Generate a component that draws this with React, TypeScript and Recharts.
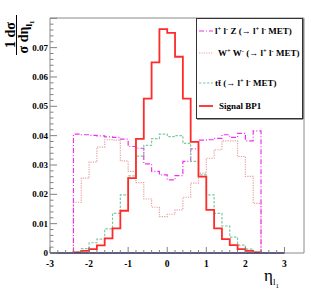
import React from "react";
import { ComposedChart, Line, XAxis, YAxis, ReferenceLine, ReferenceArea, Label } from "recharts";

// bins of 0.2 in eta, lower edges
const binStarts = [
  -2.4, -2.2, -2.0, -1.8, -1.6, -1.4, -1.2, -1.0, -0.8, -0.6, -0.4, -0.2,
  0.0, 0.2, 0.4, 0.6, 0.8, 1.0, 1.2, 1.4, 1.6, 1.8, 2.0, 2.2,
];
const binEnd = 2.4;

// l+ l- Z (-> l+ l- MET)
const llZ = [
  0.0405, 0.0403, 0.0401, 0.0399, 0.0396, 0.0394, 0.0388, 0.0363, 0.0357, 0.0304, 0.0278, 0.0266,
  0.0249, 0.0264, 0.0312, 0.0355, 0.0385, 0.0386, 0.0391, 0.0403, 0.0394, 0.0408, 0.0382, 0.0416,
];
// W+ W- (-> l+ l- MET)
const wwPair = [
  0.0173, 0.0255, 0.031, 0.0361, 0.0386, 0.0385, 0.0314, 0.0278, 0.024, 0.0184, 0.0156, 0.0124,
  0.0132, 0.0147, 0.019, 0.0238, 0.0272, 0.0323, 0.0352, 0.0382, 0.0382, 0.0329, 0.0261, 0.0169,
];
// t tbar (-> l+ l- MET)
const ttbar = [
  0.0003, 0.0015, 0.0035, 0.0047, 0.0082, 0.0135, 0.0198, 0.0263, 0.033, 0.0367, 0.039, 0.0405,
  0.0397, 0.04, 0.0374, 0.0312, 0.0266, 0.0198, 0.0135, 0.0092, 0.0054, 0.0027, 0.0013, 0.0003,
];
// Signal BP1
const signalBP1 = [
  0.0002, 0.0007, 0.0013, 0.0026, 0.005, 0.0084, 0.0144, 0.0255, 0.0389, 0.0526, 0.065, 0.0763,
  0.075, 0.0669, 0.0526, 0.0379, 0.026, 0.0147, 0.0084, 0.0047, 0.0027, 0.0013, 0.0007, 0.0002,
];

const xMajor = [-3, -2, -1, 0, 1, 2, 3];
const xLabels = ["-3", "-2", "-1", "0", "1", "2", "3"];
const yMajor = [0, 0.01, 0.02, 0.03, 0.04, 0.05, 0.06, 0.07];
const yLabels = ["0", "0.01", "0.02", "0.03", "0.04", "0.05", "0.06", "0.07"];

// minor ticks every 0.2 (x) and 0.002 (y)
const xTicks = Array.from({ length: 31 }, (_, k) => Math.round((-3 + k * 0.2) * 10) / 10);
const yTicks = Array.from({ length: 41 }, (_, k) => (k * 2) / 1000);

const serif = "'Liberation Serif', 'DejaVu Serif', serif";
const C_ZZ = "#f030f0";
const C_WW = "#e8a0a0";
const C_TT = "#80c8a0";
const C_SIG = "#ff2a2a";
const TICK = "#808080";

const zero = { zz: 0, ww: 0, tt: 0, sig: 0 };
const rows = [
  { eta: binStarts[0], ...zero },
  ...binStarts.map((eta, i) => ({ eta, zz: llZ[i], ww: wwPair[i], tt: ttbar[i], sig: signalBP1[i] })),
  { eta: binEnd, ...zero },
];

const XTick = (props: any) => {
  const { x, y, payload } = props;
  const i = xMajor.findIndex((m) => Math.abs(m - payload.value) < 1e-6);
  const major = i >= 0;
  return (
    <g>
      <line x1={x} x2={x} y1={y} y2={y - (major ? 6 : 3)} stroke={TICK} />
      {major && (
        <text x={x} y={y + 14} textAnchor="middle" fontFamily={serif} fontWeight="bold" fontSize={9.5} fill="#000">
          {xLabels[i]}
        </text>
      )}
    </g>
  );
};

const YTick = (props: any) => {
  const { x, y, payload } = props;
  const i = yMajor.findIndex((m) => Math.abs(m - payload.value) < 1e-7);
  const major = i >= 0 || Math.abs(payload.value - 0.08) < 1e-7;
  return (
    <g>
      <line x1={x} x2={x + (major ? 7 : 3.5)} y1={y} y2={y} stroke={TICK} />
      {i >= 0 && (
        <text x={x - 2} y={y + 3} textAnchor="end" fontFamily={serif} fontWeight="bold" fontSize={9} fill="#000">
          {yLabels[i]}
        </text>
      )}
    </g>
  );
};

const YTitle = () => (
  <g fontFamily={serif} fontWeight="bold" fill="#000">
    <text transform="translate(15,35) rotate(-90)" textAnchor="middle" fontSize={14}>
      1 dσ
    </text>
    <line x1={16.5} x2={16.5} y1={15} y2={55} stroke="#000" strokeWidth={1} />
    <text transform="translate(28,37) rotate(-90)" textAnchor="middle" fontSize={14}>
      σ dη<tspan fontSize={9} dy={4}>l</tspan>
      <tspan fontSize={7} dy={2}>1</tspan>
    </text>
  </g>
);

const XTitle = () => (
  <text x={264} y={281} fontFamily={serif} fontSize={17} fill="#000">
    η<tspan fontSize={9} dy={4}>l</tspan>
    <tspan fontSize={7} dy={3}>1</tspan>
  </text>
);

// text with superscripts: [text, isSup]
function rich(parts: Array<[string, boolean]>) {
  let shift = 0;
  return parts.map(([t, sup], i) => {
    const target = sup ? -3.5 : 0;
    const dy = target - shift;
    shift = target;
    return (
      <tspan key={i} dy={dy} fontSize={sup ? 6.5 : 9}>
        {t}
      </tspan>
    );
  });
}

const legendItems = [
  {
    y: 14, tx: 20, color: C_ZZ, dash: "5 2 1 2", w: 1.2,
    text: [["l", false], ["+", true], [" l", false], ["-", true], [" Z (→ l", false], ["+", true], [" l", false], ["-", true], [" MET)", false]],
  },
  {
    y: 36, tx: 23, color: C_WW, dash: "1.2 1.2", w: 1.2,
    text: [["W", false], ["+", true], [" W", false], ["-", true], [" (→ l", false], ["+", true], [" l", false], ["-", true], [" MET)", false]],
  },
  {
    y: 66, tx: 20, color: C_TT, dash: "2.5 1.5", w: 1.2,
    text: [["tt̄ (→ l", false], ["+", true], [" l", false], ["-", true], [" MET)", false]],
  },
  { y: 89, tx: 24, color: C_SIG, dash: undefined, w: 1.8, text: [["Signal BP1", false]] },
];

const LegendBox = () => (
  <svg width={109} height={103} style={{ position: "absolute", left: 195, top: 17 }}>
    <rect x={1.5} y={1.5} width={106} height={100} fill="#fff" stroke="#333" strokeWidth={1} />
    <line x1={108} x2={108} y1={2} y2={102} stroke="#333" strokeWidth={1} />
    <line x1={2} x2={108} y1={102} y2={102} stroke="#333" strokeWidth={1} />
    {legendItems.map((it, k) => (
      <g key={k}>
        <line x1={4} x2={18} y1={it.y} y2={it.y} stroke={it.color} strokeWidth={it.w} strokeDasharray={it.dash} />
        <text x={it.tx} y={it.y + 3} fontFamily={serif} fontWeight="bold" fill="#000" style={{ whiteSpace: "pre" }}>
          {rich(it.text as Array<[string, boolean]>)}
        </text>
      </g>
    ))}
  </svg>
);

export default function App() {
  return (
    <div style={{ position: "absolute", left: 0, top: 0, width: 311, height: 300, background: "#fff" }}>
      <ComposedChart width={311} height={300} data={rows} margin={{ top: 18, right: 7, bottom: 0, left: 0 }}>
        <XAxis
          type="number"
          dataKey="eta"
          domain={[-3, 3.5]}
          ticks={xTicks}
          interval={0}
          tickSize={0}
          tickMargin={0}
          axisLine={false}
          tick={<XTick />}
          height={47}
          allowDataOverflow
        >
          <Label content={<XTitle />} />
        </XAxis>
        <YAxis
          type="number"
          domain={[0, 0.0801]}
          ticks={yTicks}
          interval={0}
          tickSize={0}
          tickMargin={0}
          axisLine={false}
          tick={<YTick />}
          width={50}
          allowDataOverflow
        >
          <Label content={<YTitle />} />
        </YAxis>
        <ReferenceArea x1={-3} x2={3.5} y1={0} y2={0.0801} fill="none" stroke="#8a8a8a" strokeWidth={1} />
        <Line type="stepAfter" dataKey="ww" stroke={C_WW} strokeWidth={1.2} strokeDasharray="1.2 1.2" dot={false} activeDot={false} isAnimationActive={false} />
        <Line type="stepAfter" dataKey="zz" stroke={C_ZZ} strokeWidth={1.2} strokeDasharray="5 2 1 2" dot={false} activeDot={false} isAnimationActive={false} />
        <Line type="stepAfter" dataKey="tt" stroke={C_TT} strokeWidth={1.2} strokeDasharray="2.5 1.5" dot={false} activeDot={false} isAnimationActive={false} />
        <Line type="stepAfter" dataKey="sig" stroke={C_SIG} strokeWidth={1.8} dot={false} activeDot={false} isAnimationActive={false} />
        <ReferenceLine segment={[{ x: -3, y: 0 }, { x: 3, y: 0 }]} stroke="#3c3c6c" strokeWidth={1.5} />
      </ComposedChart>
      <LegendBox />
    </div>
  );
}
